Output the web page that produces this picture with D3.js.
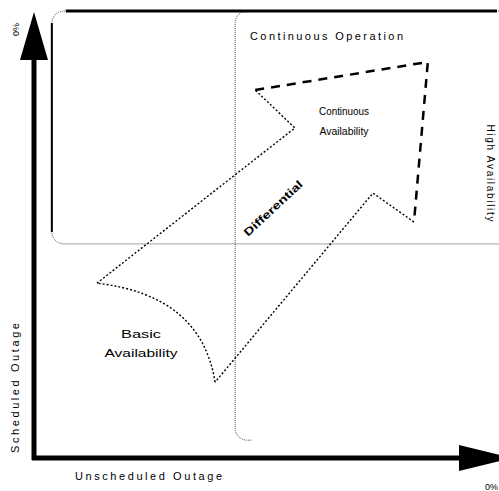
<!DOCTYPE html>
<meta charset="utf-8">
<style>
body { margin: 0; background: #fff; }
svg text { font-family: "Liberation Sans", Arial, sans-serif; fill: #000; }
.thin { fill: none; stroke: #000; stroke-width: 1.4; stroke-dasharray: 2,2; }
.dash { fill: none; stroke: #000; stroke-width: 2.5; stroke-dasharray: 9,7; }
.region { fill: none; stroke: #444; stroke-width: 1; stroke-dasharray: 1,1; }
.solid { fill: none; stroke: #000; }
</style>
<svg width="499" height="491"></svg>
<script src="https://cdn.jsdelivr.net/npm/d3@7"></script>
<script>

var svg = d3.select("svg");

// diagram space: 0..100 on both axes (unscheduled outage → x, scheduled outage → y)
var x = d3.scaleLinear().domain([0, 100]).range([34, 480]),
    y = d3.scaleLinear().domain([0, 100]).range([458, 12]);

// regions [x0, y0, x1, y1]
var regionNames = ["High Availability", "Continuous Operation"];
var regionBoxes = [[4.0, 48.0, 112, 100.2], [45.1, 4.0, 112, 100.2]];

// arrow outline pieces
var arrowLeft  = [[14.1, 39.2], [58.5, 74.0], [49.6, 82.5]];
var arrowTop   = [[49.6, 82.5], [88.3, 88.8], [85.2, 52.9]];
var arrowRight = [[85.2, 52.9], [76.0, 59.4], [40.6, 17.0]];
var arrowCurve = [[40.6, 17.0], [37.5, 36.5], [14.1, 39.2]]; // start, control, end

// labels
var axisLabels = ["Unscheduled Outage", "Scheduled Outage"];
var cornerLabels = ["0%", "0%"];
var availLabels = [["Basic", "Availability"], ["Continuous", "Availability"]];
var arrowLabel = "Differential";

var line = d3.line().x(function(d) { return x(d[0]); }).y(function(d) { return y(d[1]); });
var r = 12;

// high availability box (dotted, rounded)
var hb = regionBoxes[0];
svg.append("rect")
    .attr("class", "region")
    .attr("x", x(hb[0])).attr("y", y(hb[3]))
    .attr("width", x(hb[2]) - x(hb[0])).attr("height", y(hb[1]) - y(hb[3]))
    .attr("rx", r).attr("ry", r);

// continuous operation box: only its left side shows
var cb = regionBoxes[1];
var cpth = d3.path();
cpth.moveTo(x(cb[0]) + 16, y(cb[1]));
cpth.arcTo(x(cb[0]), y(cb[1]), x(cb[0]), y(cb[1]) - r, r);
cpth.lineTo(x(cb[0]), y(cb[3]) + r);
cpth.arcTo(x(cb[0]), y(cb[3]), x(cb[0]) + r, y(cb[3]), r);
svg.append("path").attr("class", "region").attr("d", cpth.toString());

// solid top edge + left edge of high availability box
svg.append("line").attr("class", "solid").attr("stroke-width", 3)
    .attr("x1", x(hb[0]) + r + 2).attr("x2", 497)
    .attr("y1", y(hb[3])).attr("y2", y(hb[3]));
svg.append("line").attr("class", "solid").attr("stroke-width", 2)
    .attr("x1", x(hb[0])).attr("x2", x(hb[0]))
    .attr("y1", y(hb[3]) + r).attr("y2", y(hb[1]) - r);

// arrow outline
svg.append("path").attr("class", "thin").attr("d", line(arrowLeft));
svg.append("path").attr("class", "dash").attr("d", line(arrowTop));
svg.append("path").attr("class", "thin").attr("d", line(arrowRight));
var cp = d3.path();
cp.moveTo(x(arrowCurve[0][0]), y(arrowCurve[0][1]));
cp.quadraticCurveTo(x(arrowCurve[1][0]), y(arrowCurve[1][1]), x(arrowCurve[2][0]), y(arrowCurve[2][1]));
svg.append("path").attr("class", "thin").attr("stroke-width", 1.8).attr("d", cp.toString());

// axes with arrow heads
svg.append("line").attr("class", "solid").attr("stroke-width", 5)
    .attr("x1", x(0)).attr("x2", x(0)).attr("y1", y(0) + 2).attr("y2", y(100) + 44);
svg.append("path").attr("fill", "#000")
    .attr("d", "M" + x(0) + "," + y(100) + "L" + (x(0) - 14) + "," + (y(100) + 48) + "L" + (x(0) + 14) + "," + (y(100) + 48) + "Z");
svg.append("line").attr("class", "solid").attr("stroke-width", 5)
    .attr("x1", x(0) - 2).attr("x2", 462).attr("y1", y(0)).attr("y2", y(0));
svg.append("path").attr("fill", "#000")
    .attr("d", "M459," + (y(0) - 13) + "L512," + y(0) + "L459," + (y(0) + 13) + "Z");

// region labels
svg.append("text").attr("x", 250).attr("y", 40).attr("font-size", 11)
    .attr("textLength", 153).attr("lengthAdjust", "spacing").text(regionNames[1]);
svg.append("text").attr("transform", "translate(487,173) rotate(90)")
    .attr("text-anchor", "middle").attr("font-size", 10)
    .attr("textLength", 97).attr("lengthAdjust", "spacing").text(regionNames[0]);

// availability labels
var availPos = [[141, 338, 19], [344, 115, 20]];
var availLen = [[40, 73], [50, 49]];
availLabels.forEach(function(lines, i) {
  lines.forEach(function(t, j) {
    svg.append("text")
        .attr("x", availPos[i][0] - availLen[i][j] / 2)
        .attr("y", availPos[i][1] + j * availPos[i][2])
        .attr("font-size", 11)
        .attr("textLength", availLen[i][j]).attr("lengthAdjust", "spacingAndGlyphs")
        .text(t);
  });
});

// diagonal arrow label
svg.append("text").attr("transform", "translate(248,237) rotate(-43)")
    .attr("font-size", 11).attr("font-weight", "bold")
    .attr("textLength", 76).attr("lengthAdjust", "spacingAndGlyphs").text(arrowLabel);

// axis labels
svg.append("text").attr("x", 75).attr("y", 480).attr("font-size", 11)
    .attr("textLength", 147).attr("lengthAdjust", "spacing").text(axisLabels[0]);
svg.append("text").attr("transform", "translate(19,453) rotate(-90)").attr("font-size", 11)
    .attr("textLength", 130).attr("lengthAdjust", "spacing").text(axisLabels[1]);

// corner labels
svg.append("text").attr("x", 485).attr("y", 490).attr("font-size", 9).text(cornerLabels[0]);
svg.append("text").attr("transform", "translate(19,36) rotate(-90)").attr("font-size", 9).text(cornerLabels[1]);

</script>
